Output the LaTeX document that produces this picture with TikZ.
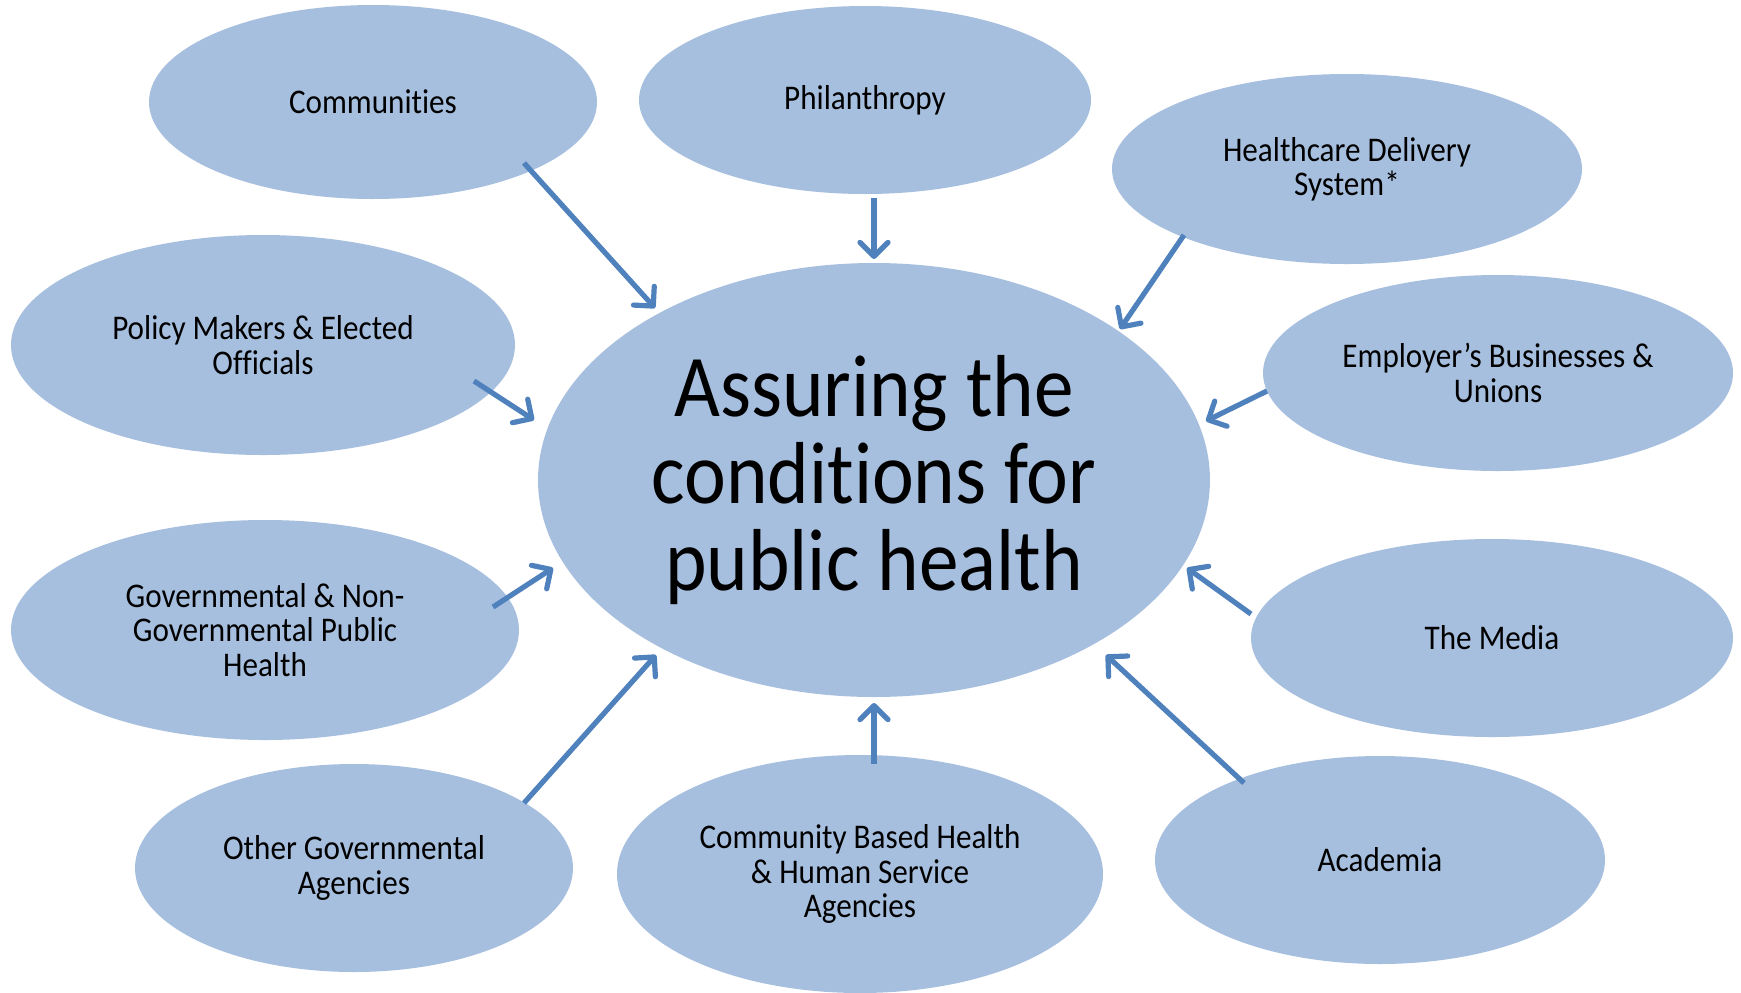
\documentclass[tikz,border=0pt]{standalone}
\usepackage{fontspec}
\setmainfont{Carlito}[FakeStretch=0.9, Ligatures=NoCommon]
\usetikzlibrary{shapes.geometric,arrows.meta}
\definecolor{bubble}{HTML}{A7BFDE}
\definecolor{arrowblue}{HTML}{4F81BD}
\tikzset{
  bub/.style={ellipse, fill=bubble, draw=none, inner sep=0pt, align=center,
    font=\fontsize{17.3}{17.2}\selectfont},
  hub/.style={ellipse, fill=bubble, draw=none, inner sep=0pt, align=center,
    font=\fontsize{44}{43.3}\selectfont},
  link/.style={draw=arrowblue, line width=2.6pt,
    -{Straight Barb[length=7pt,width=14pt,line width=2.6pt,round]}}
}
\begin{document}
\begin{tikzpicture}[x=0.5pt,y=-0.5pt]
\useasboundingbox (0,0) rectangle (1741,992);
\fill[white] (0,0) rectangle (1741,992);
% center
\node[hub, minimum width=336pt, minimum height=217pt] (hub) at (874,480) {Assuring the\\conditions for\\public health};
% outer bubbles
\node[bub, minimum width=224pt, minimum height=97pt] (comm) at (373,102) {Communities};
\node[bub, minimum width=226pt, minimum height=94pt] (phil) at (865,100) {Philanthropy};
\node[bub, minimum width=235pt, minimum height=95pt] (hcds) at (1347,169) {Healthcare Delivery\\System*};
\node[bub, minimum width=252pt, minimum height=110pt] (poli) at (263,345) {Policy Makers \& Elected\\Officials};
\node[bub, minimum width=235pt, minimum height=98pt] (empl) at (1498,373) {Employer’s Businesses \&\\Unions};
\node[bub, minimum width=254pt, minimum height=110pt] (govn) at (265,630) {Governmental \& Non-\\Governmental Public\\Health};
\node[bub, minimum width=241pt, minimum height=99pt] (medi) at (1492,638) {The Media};
\node[bub, minimum width=219pt, minimum height=104pt] (othr) at (354,868) {Other Governmental\\Agencies};
\node[bub, minimum width=243pt, minimum height=119pt] (cbhs) at (860,874) {Community Based Health\\\& Human Service\\Agencies};
\node[bub, minimum width=225pt, minimum height=104pt] (acad) at (1380,860) {Academia};
% arrow endpoints
\coordinate (a1s) at (524,163); \coordinate (a1e) at (655,308);
\coordinate (a2s) at (874,198); \coordinate (a2e) at (874,259);
\coordinate (a3s) at (1184,235); \coordinate (a3e) at (1120,329);
\coordinate (a4s) at (474,381); \coordinate (a4e) at (534,420);
\coordinate (a5s) at (1267,391); \coordinate (a5e) at (1206,421);
\coordinate (a6s) at (493,607); \coordinate (a6e) at (553,568);
\coordinate (a7s) at (1251,614); \coordinate (a7e) at (1187,568);
\coordinate (a8s) at (524,803); \coordinate (a8e) at (656,655);
\coordinate (a9s) at (874,764); \coordinate (a9e) at (874,703);
\coordinate (a10s) at (1244,783); \coordinate (a10e) at (1106,655);
\foreach \i in {1,...,10} {\draw[link] (a\i s) -- (a\i e);}
\end{tikzpicture}
\end{document}
